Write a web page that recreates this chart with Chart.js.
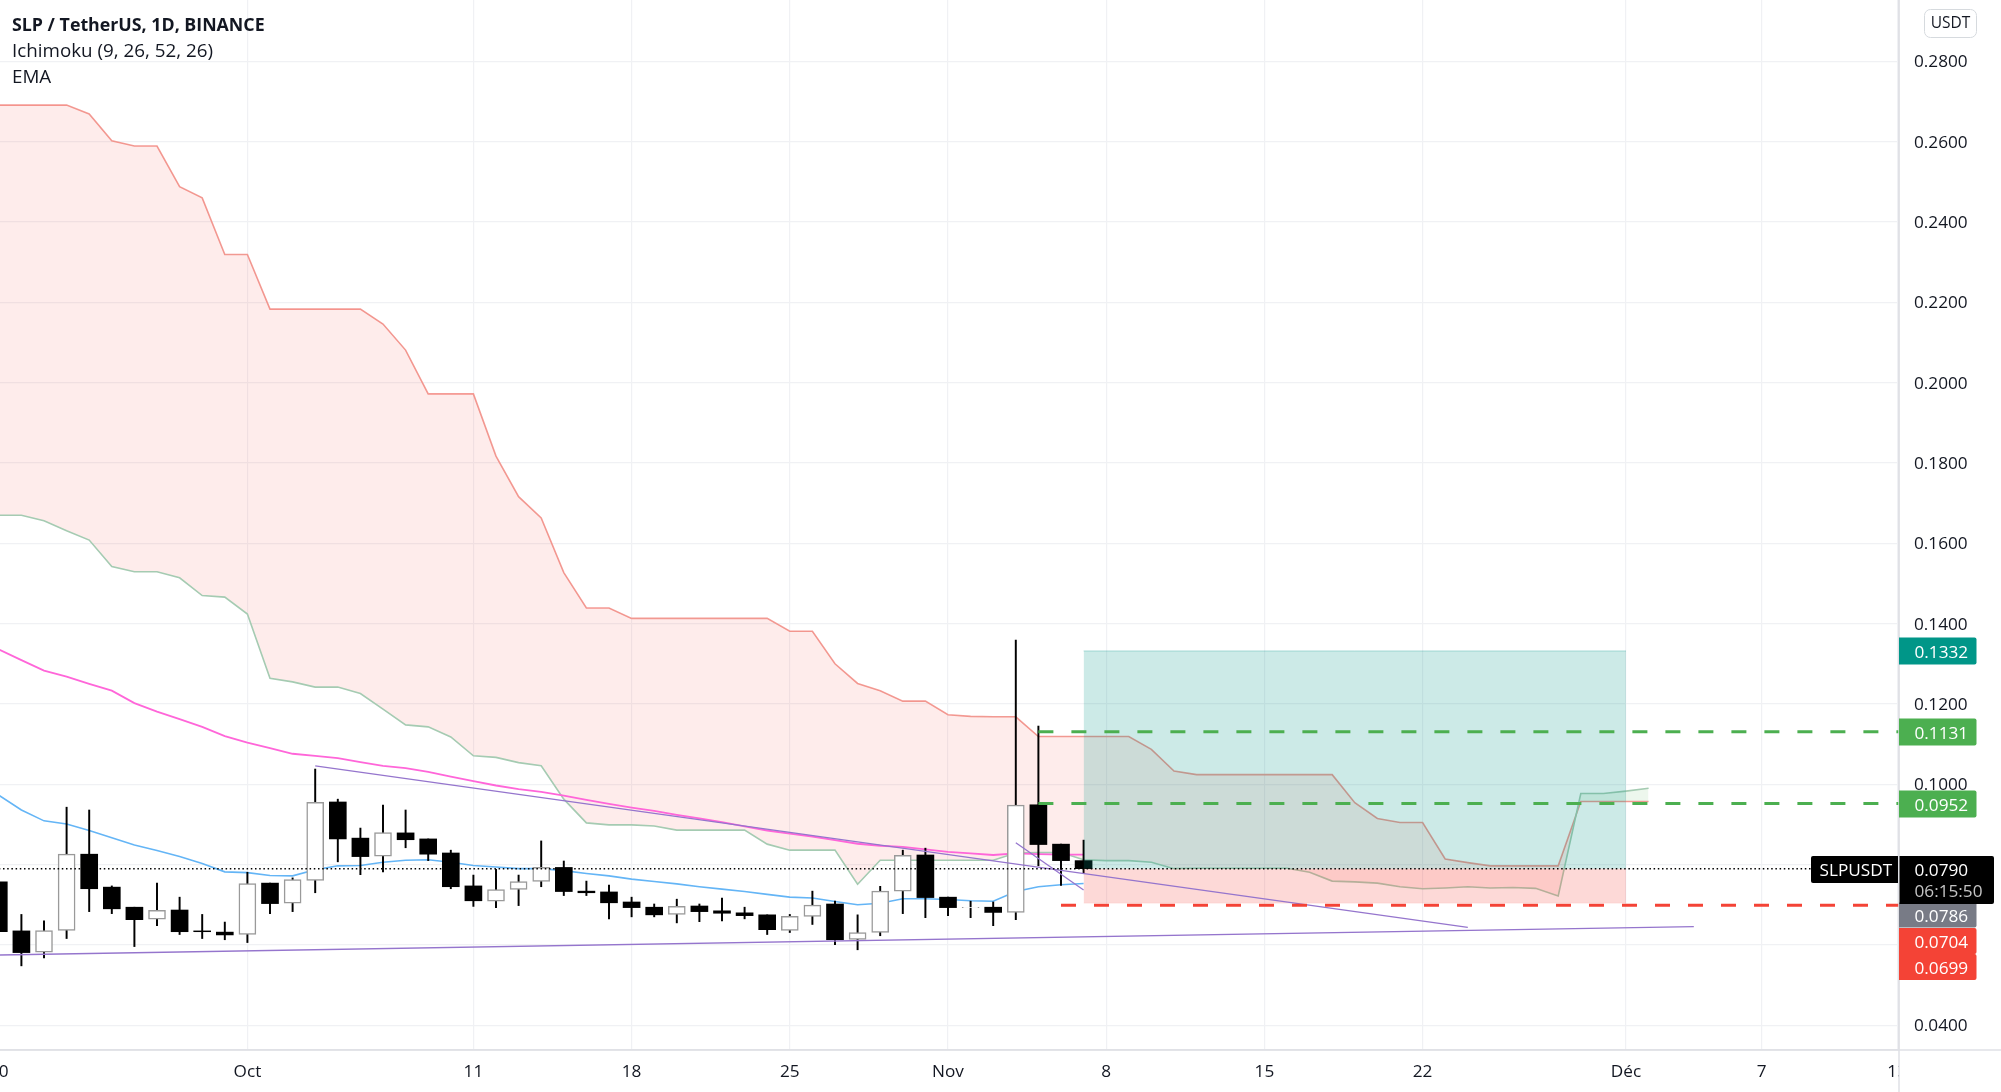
<!DOCTYPE html>
<html>
<head>
<meta charset="utf-8">
<title>SLP / TetherUS</title>
<style>
  html, body { margin: 0; padding: 0; background: #fff; overflow: hidden; }
  canvas { display: block; }
</style>
<script src="https://cdn.jsdelivr.net/npm/chart.js@4/dist/chart.umd.min.js"></script>
</head>
<body>
<canvas id="chart" width="2001" height="1092"></canvas>
<script>
// x is days from 1 Oct, first candle is 20 Sep
const firstDay = -11;

const opens = [.0757,.0635,.0582,.0636,.0826,.0744,.0694,.0664,.0687,.0635,.0632,.0626,.0754,.0704,.0761,.0956,.0866,.0821,.0879,.0864,.0829,.0747,.0709,.0738,.0758,.0793,.0734,.0732,.0707,.0694,.0676,.0697,.0685,.0680,.0675,.0636,.0671,.0702,.0614,.0631,.0734,.0824,.0719,.0693,.0694,.0681,.0949,.0851,.0810];
const highs = [.0757,.0676,.0660,.0943,.0936,.0747,.0694,.0754,.0719,.0676,.0657,.0781,.0754,.0767,.1038,.0963,.0891,.0948,.0936,.0864,.0836,.0774,.0788,.0774,.0859,.0809,.0759,.0749,.0719,.0702,.0714,.0702,.0717,.0694,.0675,.0676,.0734,.0709,.0675,.0746,.0836,.0841,.0719,.0709,.0707,.1359,.1145,.0851,.0861];
const lows = [.0633,.0548,.0568,.0616,.0683,.0678,.0596,.0648,.0626,.0616,.0613,.0606,.0678,.0683,.0730,.0807,.0775,.0782,.0842,.0810,.0740,.0696,.0693,.0698,.0745,.0723,.0723,.0665,.0670,.0670,.0655,.0658,.0660,.0665,.0626,.0631,.0651,.0601,.0588,.0623,.0678,.0668,.0673,.0668,.0648,.0663,.0797,.0748,.0778];
const closes = [.0633,.0581,.0636,.0826,.0740,.0690,.0663,.0686,.0633,.0633,.0625,.0753,.0703,.0763,.0955,.0864,.0820,.0880,.0862,.0826,.0745,.0710,.0738,.0758,.0793,.0733,.0730,.0705,.0693,.0675,.0696,.0683,.0679,.0673,.0638,.0671,.0699,.0613,.0631,.0734,.0823,.0718,.0693,.0694,.0681,.0948,.0850,.0810,.0790];

const emaFast = [.0973,.0936,.0909,.0901,.0885,.0867,.0849,.0835,.0820,.0803,.0782,.0780,.0773,.0772,.0787,.0797,.0798,.0806,.0811,.0812,.0806,.0798,.0794,.0790,.0790,.0785,.0778,.0772,.0764,.0758,.0752,.0745,.0739,.0733,.0726,.0719,.0717,.0708,.0700,.0704,.0715,.0715,.0713,.0710,.0709,.0733,.0745,.0750,.0753];
const emaSlow = [.1336,.1309,.1283,.1268,.1250,.1233,.1202,.1181,.1162,.1143,.1120,.1104,.1090,.1076,.1071,.1065,.1055,.1046,.1040,.1031,.1019,.1008,.0997,.0988,.0981,.0972,.0961,.0951,.0942,.0934,.0924,.0915,.0906,.0895,.0885,.0877,.0870,.0861,.0852,.0847,.0844,.0838,.0832,.0828,.0824,.0828,.0826,.0825,.0825];

const spanA = [.1670,.1670,.1656,.1631,.1608,.1542,.1529,.1529,.1514,.1470,.1466,.1424,.1264,.1255,.1242,.1242,.1226,.1187,.1148,.1143,.1118,.1071,.1067,.1054,.1046,.0963,.0904,.0899,.0899,.0896,.0886,.0886,.0886,.0886,.0851,.0836,.0836,.0836,.0751,.0811,.0811,.0811,.0811,.0811,.0811,.0829,.0830,.0830,.0812,.0810,.0810,.0806,.0790,.0791,.0791,.0791,.0791,.0791,.0781,.0759,.0757,.0754,.0745,.0740,.0742,.0745,.0742,.0743,.0741,.0722,.0977,.0977,.0983,.0990];
const spanB = [.2691,.2691,.2691,.2691,.2669,.2602,.2589,.2589,.2488,.2460,.2319,.2319,.2183,.2183,.2183,.2183,.2183,.2146,.2081,.1972,.1972,.1972,.1817,.1716,.1663,.1527,.1439,.1439,.1413,.1413,.1413,.1413,.1413,.1413,.1413,.1381,.1381,.1300,.1251,.1233,.1207,.1207,.1173,.1169,.1168,.1168,.1119,.1119,.1119,.1119,.1119,.1087,.1033,.1024,.1024,.1024,.1024,.1024,.1024,.1024,.0954,.0915,.0905,.0905,.0814,.0805,.0797,.0797,.0797,.0797,.0957,.0957,.0957,.0957];

const supportLine = [{x: -11, y: .0575}, {x: 64, y: .06455}];
const longTrendLine = [{x: 3, y: .10456}, {x: 54, y: .0644}];
const shortTrendLine = [{x: 34, y: .08546}, {x: 37, y: .07368}];

const lastPrice = 0.0790;
const targetPrice = 0.1332;
const stopPrice = 0.0704;
const greenLevels = [0.1131, 0.0952];
const redLevel = 0.0699;
const toolStart = 37;
const toolEnd = 61;

const xTickDays = [-11, 0, 10, 17, 24, 31, 38, 45, 52, 61, 67, 73];
const xTickLabels = ['20', 'Oct', '11', '18', '25', 'Nov', '8', '15', '22', 'Déc', '7', '13'];
const yTickValues = [.04, .06, .08, .10, .12, .14, .16, .18, .20, .22, .24, .26, .28];
const hiddenYTicks = [.06, .08]; // covered by the price badges

const fontName = '"Open Sans", "Noto Sans", sans-serif';
const textColor = '#131722';
const gridColor = '#f0f1f4';
const axisLineColor = '#e0e1e6';

const toPoints = values => values.map((v, i) => ({x: firstDay + i, y: v}));
const flatLine = (from, to, y) => [{x: from, y: y}, {x: to, y: y}];
const isUp = i => closes[i] >= opens[i];

function lineSet(data, color, width, order, extra) {
  return Object.assign({
    type: 'line',
    data: data,
    borderColor: color,
    borderWidth: width,
    pointRadius: 0,
    tension: 0,
    fill: false,
    order: order
  }, extra || {});
}

const datasets = [
  lineSet(toPoints(spanA), '#a5cbb2', 1.6, 60, {
    fill: {target: 1, above: 'rgba(76,175,80,0.1)', below: 'rgba(244,67,54,0.1)'}
  }),
  lineSet(toPoints(spanB), '#f59c96', 1.6, 61),
  lineSet(toPoints(emaFast), '#64b5f6', 1.6, 50),
  lineSet(toPoints(emaSlow), '#ff66d9', 1.8, 49),
  {
    type: 'bar',
    data: lows.map((low, i) => ({x: firstDay + i, y: [low, highs[i]]})),
    backgroundColor: '#000',
    barThickness: 1.3,
    grouped: false,
    order: 40
  },
  {
    type: 'bar',
    data: opens.map((open, i) => ({x: firstDay + i, y: [open, closes[i]]})),
    backgroundColor: opens.map((o, i) => isUp(i) ? '#fff' : '#000'),
    borderColor: opens.map((o, i) => isUp(i) ? '#9a9a9a' : '#000'),
    borderWidth: opens.map((o, i) => isUp(i) ? 1.5 : 0),
    borderSkipped: false,
    barThickness: 17,
    grouped: false,
    order: 30
  },
  lineSet(flatLine(toolStart, toolEnd, targetPrice), 'rgba(0,150,136,0.3)', 1, 20, {
    fill: {value: lastPrice}, backgroundColor: 'rgba(0,150,136,0.2)'
  }),
  lineSet(flatLine(toolStart, toolEnd, stopPrice), 'rgba(244,67,54,0.05)', 1, 21, {
    fill: {value: lastPrice}, backgroundColor: 'rgba(244,67,54,0.2)'
  }),
  lineSet(supportLine, '#9575cd', 1.3, 15),
  lineSet(longTrendLine, '#9575cd', 1.3, 14),
  lineSet(shortTrendLine, '#9575cd', 1.3, 13),
  lineSet(flatLine(35, 74, greenLevels[0]), '#4caf50', 3, 10, {borderDash: [15, 18]}),
  lineSet(flatLine(35, 74, greenLevels[1]), '#4caf50', 3, 9, {borderDash: [15, 18]}),
  lineSet(flatLine(36, 74, redLevel), '#f44336', 3, 8, {borderDash: [15, 18]}),
  lineSet(flatLine(-11, 69.2, lastPrice), '#000', 1.5, 5, {borderDash: [1.5, 2.7]})
];

function badge(ctx, x, y, w, h, color, label) {
  ctx.fillStyle = color;
  ctx.beginPath();
  ctx.roundRect(x, y, w, h, [0, 2, 2, 0]);
  ctx.fill();
  if (label) {
    ctx.fillStyle = '#fff';
    ctx.fillText(label, x + 15.5, y + h / 2 + 1.7);
  }
}

// header text, price badges and the axis corners
const overlayPlugin = {
  id: 'overlay',
  afterDraw(chart) {
    const ctx = chart.ctx;
    const area = chart.chartArea;
    ctx.save();

    // x labels stop at the price axis, the last one is cut
    ctx.fillStyle = '#fff';
    ctx.fillRect(area.right, area.bottom + 1, 2001 - area.right, 1092 - area.bottom);
    ctx.strokeStyle = axisLineColor;
    ctx.lineWidth = 1.5;
    ctx.beginPath();
    ctx.moveTo(area.right, 0);
    ctx.lineTo(area.right, 1092);
    ctx.moveTo(0, area.bottom);
    ctx.lineTo(2001, area.bottom);
    ctx.stroke();

    ctx.textBaseline = 'middle';
    ctx.textAlign = 'left';
    ctx.fillStyle = textColor;
    ctx.font = 'bold 17.8px ' + fontName;
    ctx.fillText('SLP / TetherUS, 1D, BINANCE', 12, 25.8);
    ctx.font = '18.8px ' + fontName;
    ctx.fillText('Ichimoku (9, 26, 52, 26)', 12, 51.8);
    ctx.fillText('EMA', 12, 77.8);

    ctx.strokeStyle = '#d6dade';
    ctx.lineWidth = 1;
    ctx.beginPath();
    ctx.roundRect(1924.5, 9.5, 52, 28, 6);
    ctx.stroke();
    ctx.fillStyle = textColor;
    ctx.textAlign = 'center';
    ctx.font = '15.5px ' + fontName;
    ctx.fillText('USDT', 1950.5, 24);

    ctx.textAlign = 'left';
    ctx.font = '17.2px ' + fontName;
    badge(ctx, 1899, 637.5, 77.5, 27, '#009688', '0.1332');
    badge(ctx, 1899, 718.5, 77.5, 27, '#4caf50', '0.1131');
    badge(ctx, 1899, 790.5, 77.5, 27, '#4caf50', '0.0952');
    badge(ctx, 1899, 902.5, 77.5, 25, '#787b86', '0.0786');
    badge(ctx, 1899, 928, 77.5, 26, '#f44336', '0.0704');
    badge(ctx, 1899, 954, 77.5, 26, '#f44336', '0.0699');

    ctx.fillStyle = '#000';
    ctx.beginPath();
    ctx.roundRect(1899.5, 856, 94.5, 48, [0, 2, 2, 0]);
    ctx.fill();
    ctx.beginPath();
    ctx.roundRect(1811, 856, 87, 27, [2, 0, 0, 2]);
    ctx.fill();
    ctx.fillStyle = '#fff';
    ctx.fillText('0.0790', 1914.5, 871);
    ctx.fillText('SLPUSDT', 1819.5, 871);
    ctx.fillStyle = '#c4c4c4';
    ctx.fillText('06:15:50', 1914.5, 892);

    ctx.restore();
  }
};

new Chart(document.getElementById('chart'), {
  type: 'bar',
  data: {datasets: datasets},
  plugins: [overlayPlugin],
  options: {
    responsive: false,
    animation: false,
    devicePixelRatio: 1,
    layout: {padding: 0},
    plugins: {legend: {display: false}, tooltip: {enabled: false}},
    scales: {
      x: {
        type: 'linear',
        offset: false,
        min: -10.947,
        max: 73.08,
        afterFit: scale => {
          // the clipped first and last labels must not push the plot inwards
          scale.height = 42;
          scale.paddingLeft = 0;
          scale.paddingRight = 0;
        },
        afterBuildTicks: scale => { scale.ticks = xTickDays.map(d => ({value: d})); },
        grid: {color: gridColor, lineWidth: 1.2, offset: false, drawTicks: false},
        border: {color: axisLineColor, width: 1.5},
        ticks: {
          autoSkip: false,
          maxRotation: 0,
          padding: 12,
          color: textColor,
          font: {family: fontName, size: 17.2},
          callback: value => xTickLabels[xTickDays.indexOf(value)]
        }
      },
      y: {
        position: 'right',
        min: 0.03385,
        max: 0.29526,
        afterFit: scale => {
          scale.width = 102;
          scale.paddingTop = 0;
          scale.paddingBottom = 0;
        },
        afterBuildTicks: scale => { scale.ticks = yTickValues.map(v => ({value: v})); },
        grid: {color: gridColor, lineWidth: 1.2, drawTicks: false},
        border: {color: axisLineColor, width: 1.5},
        ticks: {
          autoSkip: false,
          padding: 15,
          labelOffset: 1.3,
          color: textColor,
          font: {family: fontName, size: 17.2},
          callback: value => hiddenYTicks.includes(value) ? '' : value.toFixed(4)
        }
      }
    }
  }
});
</script>
</body>
</html>
